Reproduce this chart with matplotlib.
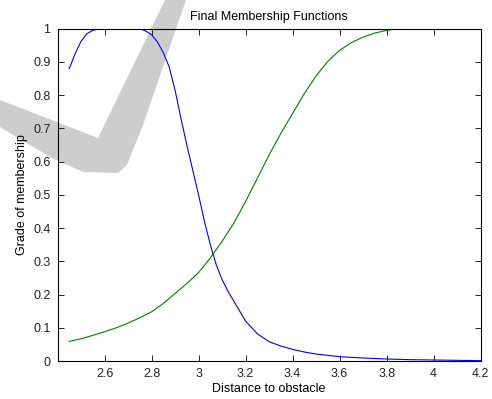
import numpy as np
import matplotlib
matplotlib.use("Agg")
import matplotlib.pyplot as plt
from matplotlib.patches import Polygon

# membership curves
near_x = [2.45, 2.475, 2.50, 2.525, 2.55, 2.575, 2.60, 2.75, 2.775, 2.80, 2.825, 2.85,
          2.875, 2.90, 2.925, 2.95, 2.975, 3.00, 3.025, 3.05, 3.075, 3.10, 3.125,
          3.15, 3.175, 3.20, 3.25, 3.30, 3.35, 3.40, 3.45, 3.50, 3.60, 3.70, 3.80,
          3.90, 4.00, 4.10, 4.20]
near_y = [0.88, 0.925, 0.962, 0.985, 0.995, 0.999, 1.0, 1.0, 0.993, 0.982, 0.96, 0.928,
          0.885, 0.815, 0.73, 0.65, 0.575, 0.50, 0.42, 0.35, 0.29, 0.245, 0.21,
          0.18, 0.15, 0.12, 0.082, 0.058, 0.045, 0.035, 0.027, 0.021, 0.013, 0.009, 0.006,
          0.004, 0.003, 0.002, 0.001]

far_x = [2.45, 2.50, 2.55, 2.60, 2.65, 2.70, 2.75, 2.80, 2.85, 2.90, 2.95, 3.00,
         3.05, 3.10, 3.15, 3.20, 3.25, 3.30, 3.35, 3.40, 3.45, 3.50, 3.55, 3.60,
         3.65, 3.70, 3.75, 3.80, 3.85]
far_y = [0.059, 0.067, 0.077, 0.088, 0.10, 0.114, 0.13, 0.148, 0.173, 0.203, 0.233, 0.266,
         0.31, 0.36, 0.415, 0.48, 0.55, 0.62, 0.685, 0.745, 0.805, 0.858, 0.902, 0.935,
         0.958, 0.975, 0.987, 0.995, 1.0]

x_ticks = [2.6, 2.8, 3.0, 3.2, 3.4, 3.6, 3.8, 4.0, 4.2]
x_tick_labels = ["2.6", "2.8", "3", "3.2", "3.4", "3.6", "3.8", "4", "4.2"]
y_ticks = [0, 0.1, 0.2, 0.3, 0.4, 0.5, 0.6, 0.7, 0.8, 0.9, 1.0]
y_tick_labels = ["0", "0.1", "0.2", "0.3", "0.4", "0.5", "0.6", "0.7", "0.8", "0.9", "1"]

plt.rcParams['font.family'] = ['Liberation Sans', 'DejaVu Sans']

W, H = 492, 399
fig = plt.figure(figsize=(W / 100, H / 100), dpi=100)

# grey watermark behind everything (pixel coords from top-left)
mark_px = [(0, 100), (98, 138), (165, 0), (186, 0), (143, 125), (127, 165),
           (118, 173), (83, 172), (50, 157), (0, 127)]
mark = Polygon([(x / W, 1 - y / H) for x, y in mark_px], closed=True,
               transform=fig.transFigure, facecolor='#cdcdcd', edgecolor='none', zorder=-5)
fig.patches.append(mark)

ax = fig.add_axes([57.5 / W, 1 - 361 / H, (480.7 - 57.5) / W, (361 - 28.7) / H])
ax.set_facecolor('none')

ax.plot(near_x, near_y, color='#0000ff', lw=0.8)
ax.plot(far_x, far_y, color='#008000', lw=0.8)

ax.set_xlim(2.4, 4.2)
ax.set_ylim(0, 1)
ax.set_xticks(x_ticks)
ax.set_xticklabels(x_tick_labels)
ax.set_yticks(y_ticks)
ax.set_yticklabels(y_tick_labels)
ax.tick_params(direction='in', length=4, width=0.7, labelsize=9,
               top=True, right=True, colors='#222222', pad=5)
for s in ax.spines.values():
    s.set_linewidth(0.8)
    s.set_color('black')

ax.set_title("Final Membership Functions", fontsize=9, pad=6)
ax.set_xlabel("Distance to obstacle", fontsize=9, labelpad=2)
ax.set_ylabel("Grade of membership", fontsize=9, labelpad=4)

fig.savefig("out.png", dpi=100)
